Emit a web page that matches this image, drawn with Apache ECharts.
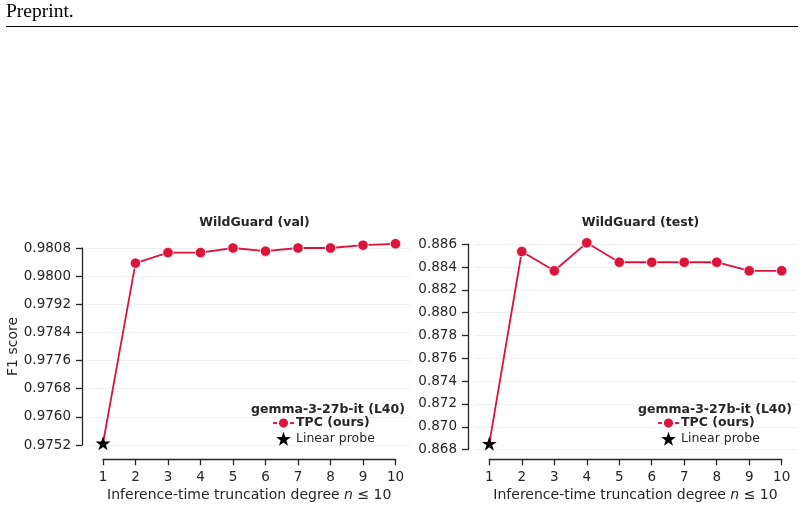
<!DOCTYPE html>
<html>
<head>
<meta charset="utf-8">
<script src="https://cdn.jsdelivr.net/npm/echarts@6/dist/echarts.min.js"></script>
<style>
  html, body { margin: 0; padding: 0; background: #fff; }
  #chart { width: 804px; height: 509px; }
</style>
</head>
<body>
<div id="chart"></div>
<script>
// data
var degrees = [1, 2, 3, 4, 5, 6, 7, 8, 9, 10];
var valTPC = [0.97525, 0.98037, 0.98067, 0.98067, 0.98080, 0.98071, 0.98080, 0.98080, 0.98088, 0.98092];
var testTPC = [0.86853, 0.88536, 0.88367, 0.88612, 0.88442, 0.88442, 0.88442, 0.88442, 0.88367, 0.88367];
var valProbe = 0.97525;
var testProbe = 0.86853;
var valTicks = { min: 0.9752, max: 0.9808, step: 0.0008 };
var testTicks = { min: 0.868, max: 0.886, step: 0.002 };

var red = '#dc143c';
var ink = '#262626';
var font = 'DejaVu Sans';
var star = 'path://M50,0 L61.8,35.1 L98.1,35.1 L68.7,56.8 L79.4,91.2 L50,70 L20.6,91.2 L31.3,56.8 L1.9,35.1 L38.2,35.1 Z';

function pairs(ys) {
    return ys.map(function (v, i) {
        var p = { value: [degrees[i], v] };
        if (i === 0) p.symbol = 'none';   // first point is the probe star
        return p;
    });
}

function mainX(grid, offset) {
    return {
        type: 'value', gridIndex: grid, min: 1, max: 10, interval: 1, offset: offset,
        axisLine: { lineStyle: { color: ink, width: 1.3 } },
        axisTick: { length: 6, lineStyle: { color: ink, width: 1.3 } },
        axisLabel: { color: ink, fontFamily: font, fontSize: 13.5, margin: 11 },
        splitLine: { show: false },
        name: '{a|Inference-time truncation degree }{i|n}{a| ≤ 10}',
        nameLocation: 'middle', nameGap: 29,
        nameTextStyle: {
            rich: {
                a: { color: ink, fontFamily: font, fontSize: 14 },
                i: { color: ink, fontFamily: font, fontSize: 14, fontStyle: 'italic' }
            }
        }
    };
}

function mainY(grid, t, offset, digits, name) {
    return {
        type: 'value', gridIndex: grid, min: t.min, max: t.max, interval: t.step, offset: offset,
        axisLine: { show: true, lineStyle: { color: ink, width: 1.3 } },
        axisTick: { show: true, length: 6, lineStyle: { color: ink, width: 1.3 } },
        axisLabel: { color: ink, fontFamily: font, fontSize: 13.5, margin: 11,
            formatter: function (v) { return v.toFixed(digits); } },
        splitLine: { show: false },
        name: name, nameLocation: 'middle', nameGap: 62,
        nameTextStyle: { color: ink, fontFamily: font, fontSize: 14 }
    };
}

function gridY(grid, t) {
    return {
        type: 'value', gridIndex: grid, min: t.min, max: t.max, interval: t.step,
        axisLine: { show: false }, axisTick: { show: false }, axisLabel: { show: false },
        splitLine: { show: true, lineStyle: { color: '#f0f0f0', width: 1 } }
    };
}

function legendFor(left) {
    return {
        orient: 'vertical', left: left, top: 416.5, padding: 0,
        itemWidth: 21, itemHeight: 14, itemGap: 2,
        data: [
            { name: 'TPC (ours)' },
            { name: 'Linear probe', itemStyle: { color: '#000', opacity: 1 } }
        ],
        formatter: function (name) {
            return name === 'TPC (ours)' ? '{b|' + name + '}' : '{n|' + name + '}';
        },
        textStyle: {
            rich: {
                b: { color: ink, fontFamily: font, fontSize: 12.5, fontWeight: 'bold', padding: [0, 0, 0, -3] },
                n: { color: ink, fontFamily: font, fontSize: 12.5, padding: [0, 0, 0, -3] }
            }
        }
    };
}

var myChart = echarts.init(document.getElementById('chart'));

var option = {
    animation: false,
    backgroundColor: '#fff',
    title: [
        { text: 'WildGuard (val)', left: 249.5, top: 211, textAlign: 'center',
          textStyle: { color: ink, fontFamily: font, fontSize: 12.5, fontWeight: 'bold' } },
        { text: 'WildGuard (test)', left: 635.5, top: 211, textAlign: 'center',
          textStyle: { color: ink, fontFamily: font, fontSize: 12.5, fontWeight: 'bold' } },
        { text: 'gemma-3-27b-it (L40)', left: 323, top: 398, textAlign: 'center',
          textStyle: { color: ink, fontFamily: font, fontSize: 12.5, fontWeight: 'bold' } },
        { text: 'gemma-3-27b-it (L40)', left: 710, top: 398, textAlign: 'center',
          textStyle: { color: ink, fontFamily: font, fontSize: 12.5, fontWeight: 'bold' } }
    ],
    legend: [legendFor(272), legendFor(657)],
    grid: [
        { left: 103, width: 292.5, top: 248, height: 197 },
        { left: 88.4, width: 321.6, top: 248, height: 197 },
        { left: 489.3, width: 292.4, top: 244.2, height: 205.4 },
        { left: 474.7, width: 321.6, top: 244.2, height: 205.4 }
    ],
    xAxis: [
        mainX(0, 14.3),
        { type: 'value', gridIndex: 1, min: 0, max: 1, show: false },
        mainX(2, 9.7),
        { type: 'value', gridIndex: 3, min: 0, max: 1, show: false }
    ],
    yAxis: [
        mainY(0, valTicks, 21, 4, 'F1 score'),
        gridY(1, valTicks),
        mainY(2, testTicks, 21.3, 3, ''),
        gridY(3, testTicks)
    ],
    series: [
        {
            name: 'TPC (ours)', type: 'line', xAxisIndex: 0, yAxisIndex: 0,
            data: pairs(valTPC), clip: false, z: 3,
            symbol: 'circle', symbolSize: 10.5,
            lineStyle: { color: red, width: 1.8 },
            itemStyle: { color: red, borderColor: '#fff', borderWidth: 0.8 }
        },
        {
            name: 'Linear probe', type: 'scatter', xAxisIndex: 0, yAxisIndex: 0,
            data: [[degrees[0], valProbe]], clip: false, z: 4,
            symbol: star, symbolSize: 15, symbolKeepAspect: true,
            itemStyle: { color: '#000', opacity: 1 }
        },
        {
            name: 'TPC (ours)', type: 'line', xAxisIndex: 2, yAxisIndex: 2,
            data: pairs(testTPC), clip: false, z: 3,
            symbol: 'circle', symbolSize: 10.5,
            lineStyle: { color: red, width: 1.8 },
            itemStyle: { color: red, borderColor: '#fff', borderWidth: 0.8 }
        },
        {
            name: 'Linear probe', type: 'scatter', xAxisIndex: 2, yAxisIndex: 2,
            data: [[degrees[0], testProbe]], clip: false, z: 4,
            symbol: star, symbolSize: 15, symbolKeepAspect: true,
            itemStyle: { color: '#000', opacity: 1 }
        }
    ],
    graphic: [
        { type: 'text', left: 6, top: 2,
          style: { text: 'Preprint.', fill: '#000', font: '19.5px "Liberation Serif"' } },
        { type: 'line', shape: { x1: 6, y1: 26.5, x2: 798, y2: 26.5 },
          style: { stroke: '#000', lineWidth: 1.1 } }
    ]
};

myChart.setOption(option);
</script>
</body>
</html>
